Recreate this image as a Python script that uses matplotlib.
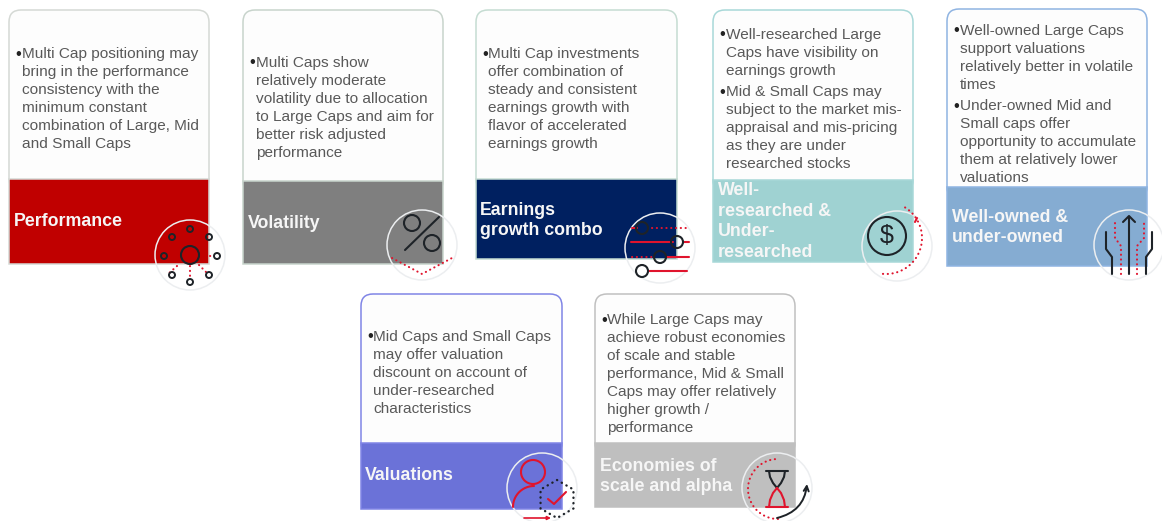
import numpy as np
import matplotlib
matplotlib.use("Agg")
import matplotlib.pyplot as plt
from matplotlib.patches import Circle, FancyBboxPatch, Rectangle, FancyArrowPatch

plt.rcParams["font.family"] = ["Liberation Sans", "DejaVu Sans"]

HEADINGS = [
    "Performance",
    "Volatility",
    "Earnings\ngrowth combo",
    "Well-\nresearched &\nUnder-\nresearched",
    "Well-owned &\nunder-owned",
    "Valuations",
    "Economies of\nscale and alpha",
]

# each card: list of bullets, each bullet is a list of lines
BODIES = [
    [["Multi Cap positioning may", "bring in the performance", "consistency with the", "minimum constant",
      "combination of Large, Mid", "and Small Caps"]],
    [["Multi Caps show", "relatively moderate", "volatility due to allocation", "to Large Caps and aim for",
      "better risk adjusted", "performance"]],
    [["Multi Cap investments", "offer combination of", "steady and consistent", "earnings growth with",
      "flavor of accelerated", "earnings growth"]],
    [["Well-researched Large", "Caps have visibility on", "earnings growth"],
     ["Mid & Small Caps may", "subject to the market mis-", "appraisal and mis-pricing", "as they are under",
      "researched stocks"]],
    [["Well-owned Large Caps", "support valuations", "relatively better in volatile", "times"],
     ["Under-owned Mid and", "Small caps offer", "opportunity to accumulate", "them at relatively lower",
      "valuations"]],
    [["Mid Caps and Small Caps", "may offer valuation", "discount on account of", "under-researched",
      "characteristics"]],
    [["While Large Caps may", "achieve robust economies", "of scale and stable", "performance, Mid & Small",
      "Caps may offer relatively", "higher growth /", "performance"]],
]

FILL_COLORS = ["#C00000", "#7F7F7F", "#002060", "#9FD2D2", "#85ACD2", "#6B72D8", "#BFBFBF"]
EDGE_COLORS = ["#D5D9D5", "#C8D4CC", "#C5DCD2", "#A8D8D8", "#8FB4E2", "#8085E6", "#C0C0C0"]

# layout, in pixels: left, right, top, divider, bottom
CARD_BOXES = [
    (9, 209, 10, 179, 264),
    (243, 443, 10, 181, 264),
    (476, 677, 10, 179, 259),
    (713, 913, 10, 180, 262),
    (947, 1147, 9, 187, 266),
    (361, 562, 294, 443, 509),
    (595, 795, 294, 443, 507),
]
BULLET_X = [15, 249, 482, 719, 953, 367, 601]
TEXT_X = [22, 256, 488, 726, 960, 373, 607]
# y of the first line of each bullet
BULLET_Y = [[54], [63], [54], [35, 92], [31, 106], [337], [320]]
HEADING_X = [14, 248, 480, 718, 952, 365, 600]
HEADING_Y = [222, 223, 220.5, 221.5, 227.5, 476, 476.5]
RING_CENTERS = [(190, 255), (422, 245), (660, 248), (897, 246), (1129, 245), (542, 488), (777, 488)]

RED = "#E0142D"
DARK = "#1E2328"
LINE_STEP = 18

fig = plt.figure(figsize=(11.62, 5.21), dpi=100)
ax = fig.add_axes([0, 0, 1, 1])
ax.set_xlim(0, 1162)
ax.set_ylim(521, 0)
ax.axis("off")


def line(xs, ys, color=DARK, lw=1.5, dotted=False):
    ls = (0, (0.1, 2.2)) if dotted else "-"
    ax.plot(xs, ys, color=color, lw=lw, ls=ls, zorder=6, solid_capstyle="round", dash_capstyle="round")


def ring(x, y, r, color=DARK, lw=1.5, fill="none"):
    ax.add_patch(Circle((x, y), r, fc=fill, ec=color, lw=lw, zorder=7))


def arc(cx, cy, r, a0, a1, **kw):
    t = np.radians(np.linspace(a0, a1, 60))
    line(cx + r * np.cos(t), cy + r * np.sin(t), **kw)


def icon_performance():
    ring(190, 255, 9)
    for x, y in [(190, 229), (172, 237), (209, 237), (164, 256), (217, 256), (172, 275), (190, 282), (209, 275)]:
        ring(x, y, 3, lw=1.4)
    line([177, 167], [266, 275], color=RED, dotted=True)
    line([190, 190], [266, 279], color=RED, dotted=True)
    line([199, 207], [265, 273], color=RED, dotted=True)
    line([210, 214], [256, 256], color=RED, dotted=True)


def icon_volatility():
    ring(412, 223, 8)
    ring(432, 243, 8)
    line([439, 405], [217, 250])
    line([392, 422, 452], [258, 274, 258], color=RED, dotted=True)


def icon_earnings():
    line([632, 637], [228, 228], color=RED)
    line([652, 687], [228, 228], color=RED, dotted=True)
    line([631, 673], [242, 242], color=RED)
    line([683, 689], [242, 242], color=RED)
    line([632, 655], [257, 257], color=RED, dotted=True)
    line([666, 689], [257, 257], color=RED)
    line([648, 687], [271, 271], color=RED)
    ring(642, 228, 6)
    ring(677, 242, 6)
    ring(660, 257, 6)
    ring(642, 271, 6, fill="white")


def icon_dollar():
    ring(887, 236, 19)
    ax.text(887, 236, "$", fontsize=18, color=DARK, ha="center", va="center", zorder=7)
    arc(886, 238, 36, -58, 100, color=RED, dotted=True)
    line([915, 917], [222, 218], color=RED)


def icon_owned():
    line([1129, 1129], [274, 217])
    line([1123, 1129, 1135], [222, 216, 222])
    line([1112, 1112, 1106, 1106], [274, 257, 249, 232])
    line([1146, 1146, 1152, 1152], [274, 257, 249, 232])
    line([1121, 1121, 1115, 1115], [274, 246, 238, 223], color=RED, dotted=True)
    line([1137, 1137, 1144, 1144], [274, 246, 238, 223], color=RED, dotted=True)


def icon_valuations():
    ring(533, 472, 12, color=RED)
    arc(534, 507, 21, 180, 270, color=RED)
    ax.add_patch(FancyArrowPatch((524, 518), (551, 518), arrowstyle="-|>", mutation_scale=5, color=RED, lw=1.2, zorder=6,
                                 shrinkA=0, shrinkB=0))
    t = np.radians(np.arange(-90, 300, 60))
    hex_x = 557 + 19 * np.cos(t)
    hex_y = 499 + 19 * np.sin(t)
    line(hex_x, hex_y, dotted=True, lw=1.7)
    line([548, 554, 566], [499, 504, 492], color=RED)


def icon_hourglass():
    line([766, 788], [471, 471])
    line([766, 788], [507, 507], color=RED)
    line([769, 770, 773, 777], [471, 477, 483, 488])
    line([785, 784, 781, 777], [471, 477, 483, 488])
    line([777, 773, 770, 769], [488, 493, 500, 507], color=RED)
    line([777, 781, 784, 785], [488, 493, 500, 507], color=RED)
    arc(778, 489, 30, 90, 272, color=RED, dotted=True)
    ax.add_patch(FancyArrowPatch((777, 518), (807, 484), connectionstyle="arc3,rad=0.35", arrowstyle="->",
                                 mutation_scale=9, color=DARK, lw=1.4, zorder=6, shrinkA=0, shrinkB=0))


ICONS = [icon_performance, icon_volatility, icon_earnings, icon_dollar, icon_owned, icon_valuations, icon_hourglass]

for i, heading in enumerate(HEADINGS):
    left, right, top, div, bottom = CARD_BOXES[i]
    # upper text panel, rounded at the top, its lower edge sits behind the colour block
    ax.add_patch(FancyBboxPatch((left + 12, top + 12), right - left - 24, div - top - 12, boxstyle="round,pad=12,rounding_size=12",
                                fc="#FDFDFD", ec=EDGE_COLORS[i], lw=1.1, zorder=1))
    ax.add_patch(Rectangle((left, div), right - left, bottom - div, fc=FILL_COLORS[i], ec=EDGE_COLORS[i], lw=1.1, zorder=2))

    for bullet, first_y in zip(BODIES[i], BULLET_Y[i]):
        ax.text(BULLET_X[i], first_y, "\u2022", fontsize=12, color="#222222", ha="left", va="center", zorder=3)
        for n, txt in enumerate(bullet):
            ax.text(TEXT_X[i], first_y + n * LINE_STEP, txt, fontsize=11.1, color="#595959",
                    ha="left", va="center", zorder=3)

    ax.text(HEADING_X[i], HEADING_Y[i], heading, fontsize=12.8, fontweight="bold", color="#F6F6F6",
            ha="left", va="center", linespacing=1.27, zorder=3)

    cx, cy = RING_CENTERS[i]
    ax.add_patch(Circle((cx, cy), 35, fc="none", ec="#ECEEF0", lw=1.1, zorder=5))
    ICONS[i]()

fig.savefig("out.png", dpi=100)
